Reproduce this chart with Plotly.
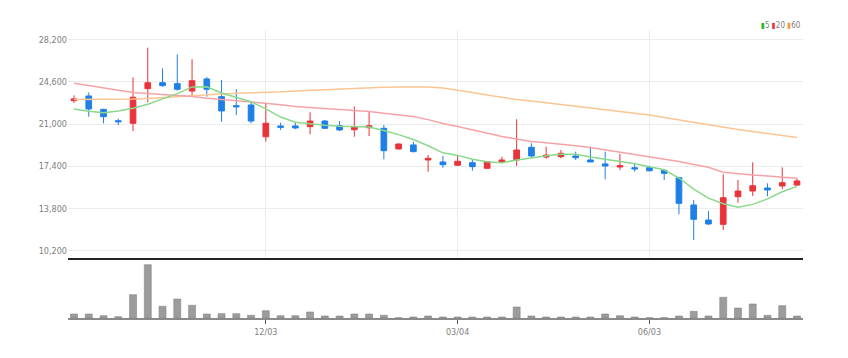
import plotly.graph_objects as go

dates = ["2018-09-03","2018-09-10","2018-09-17","2018-09-24","2018-10-01","2018-10-08","2018-10-15","2018-10-22","2018-10-29",
         "2018-11-05","2018-11-12","2018-11-19","2018-11-26","2018-12-03","2018-12-10","2018-12-17","2018-12-24","2018-12-31",
         "2019-01-07","2019-01-14","2019-01-21","2019-01-28","2019-02-04","2019-02-11","2019-02-18","2019-02-25",
         "2019-03-04","2019-03-11","2019-03-18","2019-03-25","2019-04-01","2019-04-08","2019-04-15","2019-04-22","2019-04-29",
         "2019-05-06","2019-05-13","2019-05-20","2019-05-27","2019-06-03","2019-06-10","2019-06-17","2019-06-24",
         "2019-07-01","2019-07-08","2019-07-15","2019-07-22","2019-07-29","2019-08-05","2019-08-12"]

open_ = [23000,23400,22260,21290,21070,24020,24530,24450,23820,24850,23340,22570,22630,19920,20840,20840,20780,21260,20860,20520,
         20690,20640,18880,19220,17940,17770,17490,17710,17230,17740,17940,19020,18190,18220,18280,17940,17600,17340,17280,17280,
         17060,16430,14100,12820,12450,14810,15290,15550,15720,15800]
high = [23450,23700,22300,21460,24990,27520,25760,26950,26530,25020,24760,23970,22900,22800,21120,21150,22000,21350,21260,22500,
        22060,20920,19350,19500,18360,18280,18280,18000,17840,18220,21410,19360,19070,18790,18650,19070,18650,18450,17710,17430,
        17170,16510,14530,13590,16720,16230,17740,15950,17310,16380]
low = [22800,21630,21070,20920,20410,22860,24190,23850,23480,23340,21200,21780,21070,19500,20500,20560,20130,20580,20410,19920,
       19980,18000,18830,18590,16940,17280,17430,17020,17170,17660,17430,18170,18050,18080,17940,17770,16290,17080,16940,16970,
       16230,13310,11110,12390,11970,14290,14870,14840,15440,15740]
close = [23150,22290,21630,21200,23290,24530,24280,23970,24700,23970,22120,22480,21260,21070,20730,20670,21260,20640,20500,20750,
         20860,18730,19300,18650,18080,17540,17830,17370,17790,17940,18790,18280,18360,18510,18130,17770,17430,17450,17170,17020,
         16800,14240,12880,12480,14720,15290,15740,15380,16000,16150]

ma5 = [22290,22090,21970,22110,22350,22700,23150,23600,24170,24180,23650,23250,22900,22300,21600,21150,21000,20900,20820,20780,
       20760,20450,20100,19680,19150,18550,18330,18000,17780,17700,17940,18100,18300,18420,18420,18190,18020,17850,17620,17370,
       17100,16400,15450,14680,14200,13910,14150,14620,15230,15690]
ma20 = [24480,24300,24100,23900,23700,23600,23520,23440,23360,23200,23120,23000,22880,22780,22650,22500,22420,22350,22290,22220,
        22080,21930,21800,21640,21380,21050,20800,20500,20220,19950,19720,19520,19400,19300,19150,19000,18800,18600,18400,18220,
        18000,17800,17550,17320,16900,16750,16650,16580,16500,16380]
ma60 = [23100,23100,23100,23110,23140,23180,23270,23350,23440,23520,23570,23630,23650,23710,23750,23820,23880,23930,23990,24050,
        24100,24150,24160,24180,24160,24080,23910,23700,23480,23270,23100,22970,22820,22670,22540,22420,22260,22120,21950,21780,
        21560,21350,21140,20920,20710,20540,20370,20200,20030,19860]

volume = [40,40,23,13,233,533,117,190,127,40,43,43,27,73,23,23,60,20,20,40,
          40,27,3,10,20,10,10,10,10,10,110,20,10,10,10,10,40,23,10,3,
          3,20,67,20,207,100,140,27,123,20]

tick_dates = ["2018-12-03", "2019-03-04", "2019-06-03"]
tick_text = ["12/03", "03/04", "06/03"]
price_ticks = [10200, 13800, 17400, 21000, 24600, 28200]

RED = "#e8333a"
BLUE = "#1f7fe6"
FONT = "DejaVu Sans Condensed, Liberation Sans Narrow, Roboto Condensed, Noto Sans, sans-serif"

fig = go.Figure()
fig.add_trace(go.Candlestick(
    x=dates, open=open_, high=high, low=low, close=close,
    increasing=dict(line=dict(color=RED, width=1), fillcolor=RED),
    decreasing=dict(line=dict(color=BLUE, width=1), fillcolor=BLUE),
    xaxis="x", yaxis="y", showlegend=False, hoverinfo="skip"))
fig.add_trace(go.Scatter(x=dates, y=ma60, mode="lines", line=dict(color="#fbc592", width=1.5),
                         xaxis="x", yaxis="y", showlegend=False, hoverinfo="skip"))
fig.add_trace(go.Scatter(x=dates, y=ma20, mode="lines", line=dict(color="#f6a3a8", width=1.5),
                         xaxis="x", yaxis="y", showlegend=False, hoverinfo="skip"))
fig.add_trace(go.Scatter(x=dates, y=ma5, mode="lines", line=dict(color="#8ad88a", width=1.5),
                         xaxis="x", yaxis="y", showlegend=False, hoverinfo="skip"))
fig.add_trace(go.Bar(x=dates, y=volume, width=3.3 * 86400000,
                     marker=dict(color="#9c9c9c", line=dict(color="#858585", width=0.6)),
                     xaxis="x2", yaxis="y2", showlegend=False, hoverinfo="skip"))

xr = ["2018-08-31 03:35", "2019-08-14 20:25"]
fig.update_layout(
    width=840, height=350,
    margin=dict(l=60, r=45, t=22, b=40),
    paper_bgcolor="white", plot_bgcolor="white",
    boxgap=0.45,
    font=dict(family=FONT, color="#808080"),
    xaxis=dict(domain=[0, 1], anchor="y", type="date", range=xr,
               tickvals=tick_dates, showticklabels=False, showgrid=True, gridcolor="#ececec",
               rangeslider=dict(visible=False), showline=True, linecolor="#222", linewidth=2,
               zeroline=False, ticks=""),
    yaxis=dict(domain=[0.2083, 1], range=[9577, 29026], tickvals=price_ticks, tickformat=",",
               showgrid=True, gridcolor="#ececec", zeroline=False, showline=False,
               tickfont=dict(size=9, color="#808080", family=FONT), ticks=""),
    xaxis2=dict(domain=[0, 1], anchor="y2", type="date", range=xr, matches="x",
                tickvals=tick_dates, ticktext=tick_text, showgrid=False,
                showline=True, linecolor="#8a8a8a", linewidth=2, ticks="outside", ticklen=4,
                tickcolor="#555", tickfont=dict(size=9, color="#808080", family=FONT), zeroline=False),
    yaxis2=dict(domain=[0, 0.1944], range=[0, 560], showticklabels=False, showgrid=False,
                zeroline=False, showline=False),
    annotations=[dict(
        xref="paper", yref="paper", x=1.0, y=1.015, xanchor="right", yanchor="middle", showarrow=False,
        text="<span style='color:#2fb52f'>▮</span>5 <span style='color:#ee3636'>▮</span>20 "
             "<span style='color:#f59a3a'>▮</span>60",
        font=dict(size=8, color="#808080", family=FONT))],
)

fig.write_html("out.html")
